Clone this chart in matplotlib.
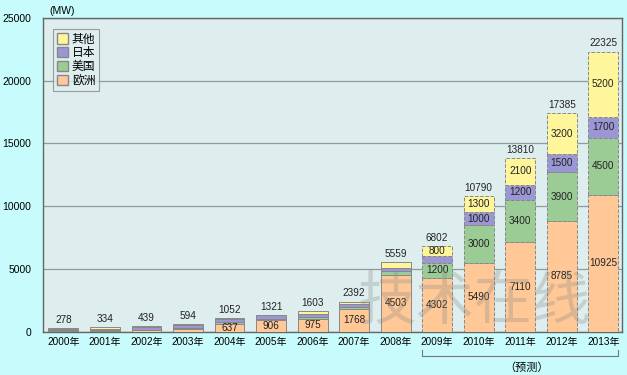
import numpy as np
import matplotlib
matplotlib.use("Agg")
from matplotlib import pyplot as plt
from matplotlib.patches import Patch

plt.rcParams['font.family'] = ['Liberation Sans', 'Noto Sans CJK SC', 'DejaVu Sans']

years = ["2000年", "2001年", "2002年", "2003年", "2004年", "2005年", "2006年",
         "2007年", "2008年", "2009年", "2010年", "2011年", "2012年", "2013年"]
europe = [60, 70, 110, 200, 637, 906, 975, 1768, 4503, 4302, 5490, 7110, 8785, 10925]
usa    = [22, 29, 44, 63, 90, 105, 145, 207, 342, 1200, 3000, 3400, 3900, 4500]
japan  = [112, 135, 185, 223, 272, 290, 287, 210, 230, 500, 1000, 1200, 1500, 1700]
other  = [84, 100, 100, 108, 53, 20, 196, 207, 484, 800, 1300, 2100, 3200, 5200]
totals = [278, 334, 439, 594, 1052, 1321, 1603, 2392, 5559, 6802, 10790, 13810, 17385, 22325]
forecast_from = 9

series = [("欧洲", europe, "#ffc896"), ("美国", usa, "#9ccc96"),
          ("日本", japan, "#9b97d4"), ("其他", other, "#fff59a")]

# which segments carry a number inside
show = {
    "欧洲": [4, 5, 6, 7, 8, 9, 10, 11, 12, 13],
    "美国": [9, 10, 11, 12, 13],
    "日本": [10, 11, 12, 13],
    "其他": [9, 10, 11, 12, 13],
}

fig = plt.figure(figsize=(6.27, 3.75), dpi=100, facecolor="#c8fcfc")
ax = fig.add_axes([0.068, 0.116, 0.924, 0.836], facecolor="#deeded")

x = np.arange(len(years))
w = 0.72
bottom = np.zeros(len(years))
for name, vals, col in series:
    vals = np.array(vals, dtype=float)
    for i in range(len(years)):
        ls = "--" if i >= forecast_from else "-"
        ax.bar(x[i], vals[i], w, bottom=bottom[i], color=col, edgecolor="#888888",
               linewidth=0.7, linestyle=ls, zorder=3)
        if i in show[name]:
            ax.text(x[i], bottom[i] + vals[i] / 2, str(int(vals[i])), ha="center",
                    va="center", fontsize=7.2, color="#222222", zorder=5)
    bottom += vals

for i, t in enumerate(totals):
    ax.text(x[i], t + 250, str(t), ha="center", va="bottom", fontsize=7.2, color="#222222", zorder=5)

ax.set_xlim(-0.5, 13.45)
ax.set_ylim(0, 25000)
ax.set_yticks(np.arange(0, 25001, 5000))
ax.set_xticks(x)
ax.set_xticklabels(years, fontsize=7.2)
ax.tick_params(axis="y", labelsize=7.5, length=0, pad=8)
ax.tick_params(axis="x", length=0, pad=4)
ax.yaxis.grid(True, color="#8c9c9c", linewidth=0.9, zorder=0)
for s in ax.spines.values():
    s.set_color("#666666")
    s.set_linewidth(1.0)

fig.text(0.078, 0.972, "(MW)", fontsize=7.5, ha="left", va="center")

handles = [Patch(facecolor=c, edgecolor="#888888", label=n) for n, _, c in reversed(series)]
leg = ax.legend(handles=handles, loc="upper left", bbox_to_anchor=(0.018, 0.965),
                frameon=True, fancybox=False, handlelength=0.95,
                handleheight=0.95, handletextpad=0.35, labelspacing=0.08,
                borderpad=0.3, borderaxespad=0,
                prop={'family': ['Noto Sans CJK SC'], 'size': 8.5})
leg.get_frame().set_edgecolor("#888888")
leg.get_frame().set_facecolor("#deeded")
leg.get_frame().set_linewidth(0.8)

# bracket for forecast years
trans = ax.get_xaxis_transform()
xl = forecast_from - w / 2
xr = len(years) - 1 + w / 2
ax.plot([xl, xl, xr, xr], [-0.06, -0.078, -0.078, -0.06], transform=trans,
        color="#777777", linewidth=0.8, clip_on=False)
ax.text((xl + xr) / 2 + 0.15, -0.1, "（预测）", transform=trans, ha="center", va="top",
        fontsize=8, family=['Noto Sans CJK SC'])

# watermark
ax.text(9.9, 2300, "技术在线", ha="center", va="center", fontsize=42,
        color="#8a8a8a", alpha=0.3, zorder=6, family=['Noto Sans CJK SC'])

fig.savefig("out.png", dpi=100, facecolor=fig.get_facecolor())
